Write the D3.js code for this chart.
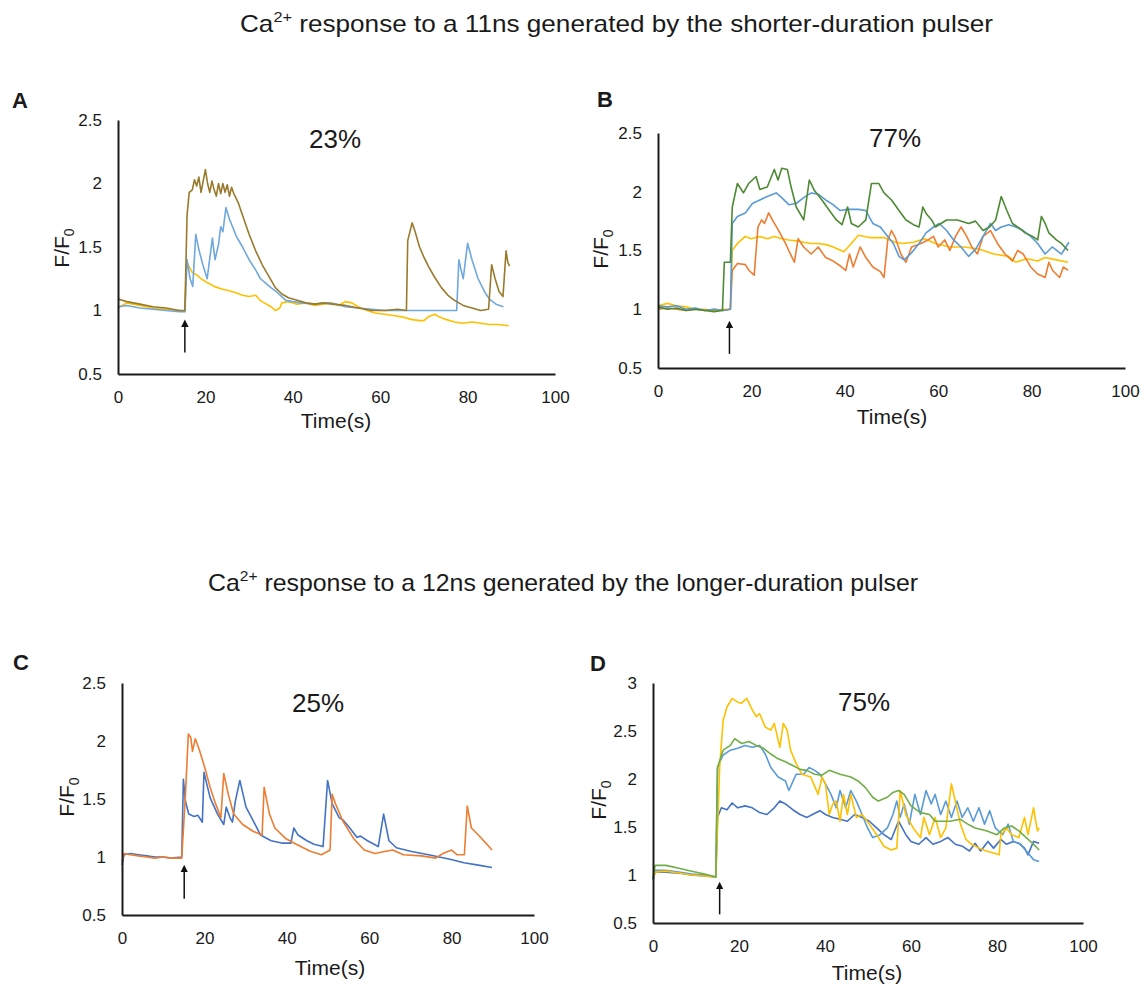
<!DOCTYPE html>
<meta charset="utf-8">
<script src="https://d3js.org/d3.v7.min.js"></script>
<style>
  body { margin: 0; background: #fff; }
  text { font-family: "Liberation Sans", Arial, sans-serif; fill: #1a1a1a; }
  .domain { stroke: #1a1a1a; stroke-width: 2px; }
  .trace { fill: none; stroke-width: 1.6px; stroke-linejoin: round; }
</style>
<svg id="fig" width="1143" height="988"></svg>
<script>

// ---- data: [time (s), F/F0] ----
// panel A (23%)
var aBrown = [[0,1.09],[2,1.07],[5,1.05],[8,1.03],[11,1.02],[14,1.0],[15.3,1.0],[15.8,1.75],[16.3,1.93],[17,1.95],[17.5,2.03],[18,1.98],[18.5,2.05],[19,1.93],[19.5,2.02],[20,2.11],[20.5,2.0],[21,1.93],[21.5,2.02],[22,1.95],[22.5,1.9],[23,2.0],[23.5,1.92],[24,2.0],[24.5,1.93],[25,1.99],[25.5,1.9],[26,1.97],[26.5,1.92],[27.5,1.85],[28.5,1.75],[30,1.6],[31.5,1.47],[33,1.36],[34.5,1.27],[36,1.18],[37.5,1.13],[39,1.1],[41,1.08],[43,1.06],[45,1.05],[47,1.06],[49,1.05],[52,1.04],[55,1.02],[58,1.0],[61,1.0],[64,1.01],[66,1.0],[66.3,1.55],[67.3,1.69],[68,1.62],[69,1.5],[70,1.42],[71,1.35],[72.5,1.26],[74,1.18],[75.5,1.12],[77,1.08],[79,1.04],[81,1.02],[83,1.0],[84.8,1.01],[85.5,1.36],[86.3,1.25],[87.2,1.15],[88.1,1.11],[88.8,1.47],[89.2,1.38],[89.6,1.35]];
var aBlue = [[0,1.03],[2,1.04],[5,1.02],[8,1.01],[11,1.0],[14,0.99],[15.3,0.99],[15.8,1.4],[16.5,1.25],[17.1,1.19],[17.8,1.6],[18.5,1.48],[19.5,1.35],[20.4,1.25],[21.6,1.57],[22.2,1.4],[23,1.52],[23.5,1.66],[24,1.62],[24.7,1.81],[25.5,1.72],[27,1.59],[28.5,1.5],[30,1.4],[31.5,1.32],[32.6,1.25],[34,1.21],[35,1.18],[36.5,1.14],[38.4,1.08],[40,1.07],[42,1.06],[45,1.05],[48,1.06],[50,1.05],[52,1.03],[55,1.02],[58,1.01],[61,1.0],[65,1.0],[70,1.0],[74,1.0],[77.5,1.0],[78,1.4],[78.5,1.32],[79,1.25],[80,1.53],[81,1.4],[82.4,1.25],[84,1.14],[85,1.09],[86.5,1.05],[88.2,1.03]];
var aYellow = [[0,1.02],[2,1.06],[5,1.04],[8,1.02],[11,1.01],[14,1.0],[15.3,0.99],[15.7,1.38],[16.5,1.33],[17,1.3],[18,1.28],[19,1.25],[20.4,1.22],[22,1.19],[23.7,1.17],[25,1.16],[27,1.14],[28.5,1.12],[30,1.11],[31.5,1.12],[32.5,1.08],[33.5,1.06],[35,1.03],[36,1.0],[37,1.02],[37.5,1.06],[39,1.07],[41,1.05],[43,1.06],[45,1.04],[47,1.05],[49,1.06],[50.5,1.04],[52,1.07],[53.5,1.06],[55,1.03],[57,1.0],[58.8,0.98],[61,0.97],[63,0.96],[65,0.95],[67,0.93],[69,0.92],[70,0.92],[71,0.95],[72.5,0.97],[73.5,0.95],[75,0.93],[77,0.91],[79,0.9],[81,0.91],[83,0.9],[85,0.89],[87,0.89],[89.4,0.88]];

// panel B (77%)
var bOrange = [[0,1.0],[2,1.01],[4,1.0],[6,0.99],[8,1.0],[10,0.99],[12,1.0],[14,0.99],[15.5,1.0],[15.9,1.33],[17,1.39],[18.7,1.38],[19.5,1.33],[20.6,1.29],[21.4,1.7],[22.2,1.76],[22.8,1.73],[23.7,1.82],[24.5,1.76],[26.1,1.65],[27.3,1.56],[28,1.5],[29.2,1.4],[30,1.6],[31.2,1.53],[32.8,1.47],[34.3,1.53],[35.9,1.44],[37.5,1.41],[39,1.37],[40.2,1.33],[41,1.47],[41.8,1.36],[43.3,1.53],[44.5,1.44],[46,1.36],[47.6,1.32],[48.4,1.27],[49.2,1.59],[50,1.67],[50.8,1.61],[52,1.47],[53.1,1.4],[54.3,1.53],[56.3,1.56],[57.8,1.59],[59,1.62],[60,1.53],[61.4,1.59],[62.5,1.5],[63.7,1.62],[64.9,1.7],[66.1,1.62],[67.2,1.53],[68.4,1.47],[69.6,1.62],[71.2,1.67],[72.7,1.56],[74.3,1.47],[75.9,1.41],[77,1.5],[78.2,1.47],[79.8,1.36],[81.3,1.3],[82.9,1.27],[83.7,1.4],[84.5,1.33],[86,1.27],[86.8,1.36],[87.8,1.33]];
var bYellow = [[0,1.03],[2,1.05],[4,1.03],[6,1.02],[8,1.0],[10,1.0],[12,0.99],[14,1.0],[15.5,1.0],[15.9,1.5],[17,1.56],[18.7,1.62],[20,1.6],[21.8,1.62],[23.5,1.6],[24.9,1.62],[26.5,1.6],[28,1.59],[30,1.58],[31.2,1.57],[32.8,1.56],[34.3,1.56],[36,1.55],[37.5,1.53],[39.8,1.49],[41.4,1.56],[42.9,1.63],[45.3,1.61],[48.4,1.61],[50.8,1.57],[52.4,1.56],[54.7,1.57],[57.1,1.6],[59.4,1.56],[62.5,1.53],[65.7,1.53],[68.8,1.51],[71.9,1.47],[75.1,1.45],[76.6,1.4],[79,1.43],[81.3,1.41],[82.9,1.44],[85.3,1.42],[87.8,1.4]];
var bBlue = [[0,1.03],[2,1.02],[4,1.03],[6,1.0],[8,1.01],[10,0.99],[12,1.0],[14,0.99],[15.5,1.0],[15.9,1.73],[17,1.79],[18.7,1.82],[20.2,1.9],[21.8,1.93],[23.4,1.96],[25.3,1.99],[26.5,1.95],[28,1.89],[29.6,1.9],[31.2,1.95],[32.8,1.99],[34.3,1.98],[35.9,1.93],[37.5,1.89],[39,1.84],[40.6,1.85],[42.9,1.85],[44.5,1.84],[46,1.73],[47.6,1.7],[49.2,1.62],[50.4,1.56],[51.6,1.45],[52.7,1.42],[54.3,1.48],[55.9,1.56],[57.4,1.65],[59,1.7],[60.2,1.73],[61.8,1.67],[63.3,1.59],[64.9,1.53],[66.5,1.45],[68,1.51],[69.6,1.62],[71.2,1.73],[72.3,1.67],[73.5,1.7],[75.1,1.72],[76.6,1.7],[78.2,1.67],[79.8,1.62],[81.3,1.56],[82.9,1.47],[84.4,1.53],[86.4,1.47],[88,1.57]];
var bGreen = [[0,1.02],[2,1.0],[4,1.01],[6,0.99],[8,1.0],[10,0.99],[12,0.98],[13.8,0.99],[14.2,1.4],[15.5,1.4],[15.9,1.87],[17,2.07],[18.3,1.99],[19.4,2.07],[21,2.13],[21.8,2.02],[23.4,2.04],[24.9,2.19],[25.7,2.1],[26.5,2.2],[27.7,2.19],[28.5,2.04],[29.6,1.87],[31.2,1.76],[32.4,2.1],[33.5,2.01],[35.1,1.93],[36.7,1.84],[38.2,1.76],[39.4,1.72],[40.6,1.87],[41.4,1.73],[42.9,1.7],[44.5,1.76],[45.7,2.07],[47.3,2.07],[48.4,1.99],[50,1.93],[51.6,1.84],[53.1,1.76],[54.7,1.72],[55.9,1.7],[56.7,1.87],[57.5,1.81],[58.6,1.76],[59.4,1.7],[61.8,1.76],[64.1,1.76],[66.5,1.73],[68,1.75],[69.6,1.67],[71,1.7],[72.3,1.76],[73.5,1.96],[74.7,1.84],[75.9,1.73],[77.4,1.69],[78.6,1.65],[80.2,1.62],[81.3,1.59],[82.1,1.79],[82.9,1.73],[83.7,1.65],[85.3,1.59],[86.4,1.56],[87.8,1.5]];

// panel C (25%)
var cBlue = [[0,0.93],[0.5,1.02],[2,1.03],[4,1.02],[6,1.01],[8,1.0],[10,1.0],[12,0.99],[14.5,1.0],[14.9,1.67],[15.4,1.48],[16.2,1.37],[17.5,1.35],[18.4,1.36],[19.5,1.3],[19.9,1.73],[21.4,1.51],[23.2,1.37],[24.7,1.28],[25.3,1.43],[26.2,1.34],[26.8,1.3],[27.5,1.48],[28.6,1.66],[30.1,1.43],[31.9,1.31],[33.6,1.19],[36.2,1.14],[38.8,1.12],[41,1.12],[41.7,1.25],[42.7,1.19],[44.9,1.14],[46.6,1.11],[48.8,1.09],[49.9,1.66],[51,1.46],[52.7,1.34],[53.6,1.32],[55.3,1.25],[57,1.17],[57.9,1.18],[59.6,1.14],[62.2,1.09],[63.5,1.37],[64.8,1.14],[66.6,1.08],[70,1.05],[74.4,1.02],[77,1.0],[79.6,0.98],[83,0.95],[86.5,0.93],[89.8,0.91]];
var cOrange = [[0,0.96],[0.5,1.03],[2,1.02],[4,1.01],[6,1.0],[8,0.99],[10,1.0],[12,0.99],[14.5,0.99],[15.4,1.54],[16.1,2.06],[16.7,2.03],[17.1,1.91],[17.8,2.02],[18.8,1.92],[20.1,1.77],[21.4,1.6],[22.7,1.46],[24,1.34],[24.7,1.72],[25.8,1.54],[27.1,1.37],[29.3,1.28],[31.9,1.22],[34,1.19],[34.5,1.6],[35.8,1.37],[37.1,1.25],[39.7,1.16],[42.3,1.11],[45.7,1.05],[48.4,1.02],[50.5,1.06],[51,1.54],[51.8,1.46],[53.6,1.31],[56.2,1.16],[58.8,1.06],[61.4,1.03],[64,1.05],[65.7,1.06],[68.3,1.02],[72.7,1.01],[76.1,0.99],[77.9,1.03],[80,1.06],[81.3,1.02],[83.1,1.02],[83.8,1.44],[84.8,1.25],[86.5,1.19],[88.3,1.12],[89.8,1.06]];

// panel D (75%)
var dDark = [[0,0.95],[0.5,1.03],[3,1.03],[6,1.02],[9,1.0],[12,0.99],[14.6,0.98],[15,1.6],[15.9,1.7],[17.2,1.68],[18.4,1.75],[19.7,1.7],[21.4,1.72],[23.1,1.7],[24.8,1.65],[26.5,1.63],[28.2,1.7],[29.5,1.77],[30.8,1.74],[32.5,1.68],[34.2,1.63],[35.8,1.6],[37.1,1.63],[38.8,1.67],[40.1,1.63],[41.8,1.6],[43.5,1.58],[45.2,1.56],[46.9,1.63],[48.6,1.6],[50.3,1.56],[52,1.49],[53.7,1.42],[55.4,1.37],[57.1,1.56],[58.8,1.42],[60,1.35],[61.8,1.32],[63.5,1.39],[65.1,1.32],[66.9,1.35],[68.6,1.39],[70.3,1.32],[71.9,1.3],[73.6,1.25],[74.9,1.33],[76.2,1.25],[77.9,1.35],[79.2,1.28],[80.9,1.37],[82.2,1.32],[83.8,1.35],[85.1,1.33],[86.4,1.28],[87.2,1.21],[88.5,1.35],[89.8,1.33]];
var dLight = [[0,0.96],[0.5,1.05],[3,1.05],[6,1.03],[9,1.01],[12,1.0],[14.6,0.98],[15,2.12],[16.3,2.25],[18,2.3],[19.7,2.32],[21.4,2.35],[23.1,2.33],[24.8,2.35],[26.1,2.26],[27.4,2.12],[29.1,2.02],[30.8,1.98],[31.6,1.88],[33.3,2.05],[35,2.05],[36.3,2.12],[37.6,2.09],[38.8,2.05],[40.1,1.95],[41.4,1.84],[42.6,1.7],[43.5,1.88],[44.8,1.7],[46,1.88],[47.3,1.77],[48.6,1.63],[49.9,1.49],[51.1,1.39],[52.8,1.42],[54.5,1.49],[55.8,1.63],[56.7,1.77],[57.5,1.6],[58.4,1.74],[59.6,1.53],[60.9,1.84],[62.2,1.63],[63.5,1.88],[64.7,1.74],[65.6,1.84],[66.9,1.63],[68.1,1.77],[69.4,1.6],[70.7,1.77],[71.9,1.6],[73.2,1.7],[74.5,1.56],[75.8,1.7],[77.1,1.53],[78.3,1.67],[79.6,1.49],[81.3,1.42],[82.6,1.53],[83.8,1.35],[85.5,1.32],[86.8,1.25],[88.5,1.16],[89.8,1.14]];
var dYellow = [[0,0.97],[0.5,1.03],[3,1.04],[6,1.02],[9,1.0],[12,0.99],[14.6,0.98],[15.5,2.12],[16.3,2.61],[17.2,2.75],[18.4,2.84],[19.7,2.8],[20.6,2.79],[21.8,2.84],[23.1,2.72],[24,2.65],[24.8,2.68],[26.1,2.54],[27.4,2.51],[28.2,2.58],[29.5,2.33],[30.3,2.58],[31.2,2.51],[32,2.3],[33.3,2.16],[34.6,2.05],[36.7,2.02],[38.4,1.84],[39.3,2.02],[40.1,1.95],[41,1.63],[41.8,1.74],[42.6,1.77],[43.5,1.56],[44.3,1.84],[45.2,1.63],[46,1.84],[47.3,1.6],[48.6,1.63],[50.3,1.53],[52,1.42],[53.7,1.3],[55.4,1.26],[56.7,1.28],[57.5,1.88],[58.8,1.63],[60.5,1.49],[62.2,1.39],[63,1.6],[64.3,1.42],[65.6,1.6],[66.9,1.39],[68.1,1.49],[69.4,1.95],[70.3,1.77],[71.5,1.53],[72.8,1.37],[74.1,1.32],[75.8,1.28],[77.5,1.25],[79.2,1.23],[80.5,1.21],[80.9,1.42],[82.2,1.49],[83.4,1.42],[85.1,1.39],[86.4,1.6],[87.2,1.42],[88.5,1.7],[89.4,1.46],[89.8,1.49]];
var dGreen = [[0,0.97],[0.5,1.1],[3,1.1],[6,1.07],[9,1.04],[12,1.01],[14.6,0.98],[15,2.12],[16.3,2.3],[18,2.35],[19,2.42],[20.6,2.37],[22.3,2.39],[24,2.35],[25.7,2.32],[27.4,2.26],[29.1,2.21],[30.8,2.18],[32.5,2.14],[34.2,2.1],[35.8,2.09],[37.6,2.05],[39.3,2.04],[41,2.09],[43.5,2.05],[46,2.02],[47.7,1.98],[49.4,1.91],[51.1,1.81],[52.4,1.77],[54.5,1.81],[55.8,1.86],[57.1,1.88],[58.4,1.84],[60,1.72],[62.2,1.65],[64.3,1.63],[65.6,1.56],[69,1.56],[71.5,1.58],[73.2,1.53],[74.9,1.49],[77.5,1.46],[80,1.42],[81.7,1.49],[83.4,1.51],[85.1,1.46],[86.8,1.39],[88.5,1.32],[89.8,1.26]];

// ticks and labels
var xTicks = [0, 20, 40, 60, 80, 100];
var yTicksLow = [0.5, 1, 1.5, 2, 2.5];
var yTicksD = [0.5, 1, 1.5, 2, 2.5, 3];
var percents = ["23%", "77%", "25%", "75%"];
var letters = ["A", "B", "C", "D"];
// stimulus arrow: time, value at tail, value at head
var arrowT = [15.3, 15.3, 15.1, 15.5];
var arrowFrom = [0.67, 0.62, 0.64, 0.59];
var arrowTo = [0.9, 0.87, 0.9, 0.89];

var svg = d3.select("#fig");

svg.append("defs").append("marker")
  .attr("id", "head")
  .attr("viewBox", "0 0 10 10")
  .attr("refX", 5).attr("refY", 5)
  .attr("markerWidth", 5).attr("markerHeight", 5)
  .attr("orient", "auto")
  .append("path")
    .attr("d", "M0,0 L10,5 L0,10 z")
    .attr("fill", "#111");

// titles (with superscript 2+)
function title(x, y, len, rest) {
  var t = svg.append("text")
    .attr("x", x).attr("y", y)
    .attr("font-size", 24)
    .attr("textLength", len)
    .attr("lengthAdjust", "spacingAndGlyphs");
  t.append("tspan").text("Ca");
  t.append("tspan").attr("font-size", 15).attr("dy", -10).text("2+");
  t.append("tspan").attr("dy", 10).text(rest);
}
title(240, 32, 753, " response to  a 11ns generated by the shorter-duration pulser");
title(208, 591, 710, " response to a 12ns generated by the longer-duration pulser");

// panel layout
var panels = [
  { x0: 118, x1: 555, yb: 374, yt: 120, ymax: 2.5, yticks: yTicksLow, pctX: 335, pctY: 148, letX: 12, letY: 108, timeX: 336, timeY: 428, labX: 62, labY: 248,
    series: [{ d: aYellow, c: "#ffc000" }, { d: aBlue, c: "#6fa8dc" }, { d: aBrown, c: "#9a7a2c" }] },
  { x0: 658, x1: 1125, yb: 368, yt: 133, ymax: 2.5, yticks: yTicksLow, pctX: 895, pctY: 147, letX: 597, letY: 107, timeX: 892, timeY: 424, labX: 601, labY: 249,
    series: [{ d: bYellow, c: "#ffc000" }, { d: bOrange, c: "#ed7d31" }, { d: bBlue, c: "#5b9bd5" }, { d: bGreen, c: "#4e8a34" }] },
  { x0: 122, x1: 534, yb: 915, yt: 683, ymax: 2.5, yticks: yTicksLow, pctX: 318, pctY: 712, letX: 13, letY: 670, timeX: 330, timeY: 975, labX: 67, labY: 797,
    series: [{ d: cBlue, c: "#4472c4" }, { d: cOrange, c: "#ed7d31" }] },
  { x0: 653, x1: 1083, yb: 923, yt: 683, ymax: 3, yticks: yTicksD, pctX: 864, pctY: 711, letX: 590, letY: 671, timeX: 867, timeY: 980, labX: 599, labY: 800,
    series: [{ d: dDark, c: "#4472c4" }, { d: dLight, c: "#5b9bd5" }, { d: dYellow, c: "#ffc000" }, { d: dGreen, c: "#70ad47" }] }
];

panels.forEach(function(p, i) {
  var x = d3.scaleLinear().domain([0, 100]).range([p.x0, p.x1]);
  var y = d3.scaleLinear().domain([0.5, p.ymax]).range([p.yb, p.yt]);
  var g = svg.append("g");

  var line = d3.line()
    .x(function(d) { return x(d[0]); })
    .y(function(d) { return y(d[1]); });

  p.series.forEach(function(s) {
    g.append("path")
      .attr("class", "trace")
      .attr("d", line(s.d))
      .attr("stroke", s.c);
  });

  // axes: Excel style, no tick marks
  g.append("g")
    .attr("transform", "translate(0," + p.yb + ")")
    .call(d3.axisBottom(x).tickValues(xTicks).tickSize(0).tickPadding(17).tickFormat(d3.format("")))
    .attr("font-family", null).attr("font-size", 17)
    .selectAll(".tick text").attr("fill", "#262626");
  g.append("g")
    .attr("transform", "translate(" + p.x0 + ",0)")
    .call(d3.axisLeft(y).tickValues(p.yticks).tickSize(0).tickPadding(16).tickFormat(d3.format("")))
    .attr("font-family", null).attr("font-size", 17)
    .selectAll(".tick text").attr("fill", "#262626");

  // stimulus arrow
  g.append("line")
    .attr("x1", x(arrowT[i])).attr("x2", x(arrowT[i]))
    .attr("y1", y(arrowFrom[i])).attr("y2", y(arrowTo[i]))
    .attr("stroke", "#111").attr("stroke-width", 1.5)
    .attr("marker-end", "url(#head)");

  g.append("text")
    .attr("x", p.pctX).attr("y", p.pctY)
    .attr("text-anchor", "middle")
    .attr("font-size", 26)
    .text(percents[i]);

  g.append("text")
    .attr("x", p.letX).attr("y", p.letY)
    .attr("font-size", 22).attr("font-weight", "bold")
    .text(letters[i]);

  g.append("text")
    .attr("x", p.timeX).attr("y", p.timeY)
    .attr("text-anchor", "middle")
    .attr("font-size", 21)
    .text("Time(s)");

  var lab = g.append("text")
    .attr("transform", "translate(" + (p.labX + 7) + "," + p.labY + ") rotate(-90)")
    .attr("text-anchor", "middle")
    .attr("font-size", 21);
  lab.append("tspan").text("F/F");
  lab.append("tspan").attr("font-size", 14).attr("dy", 5).text("0");
});

</script>
